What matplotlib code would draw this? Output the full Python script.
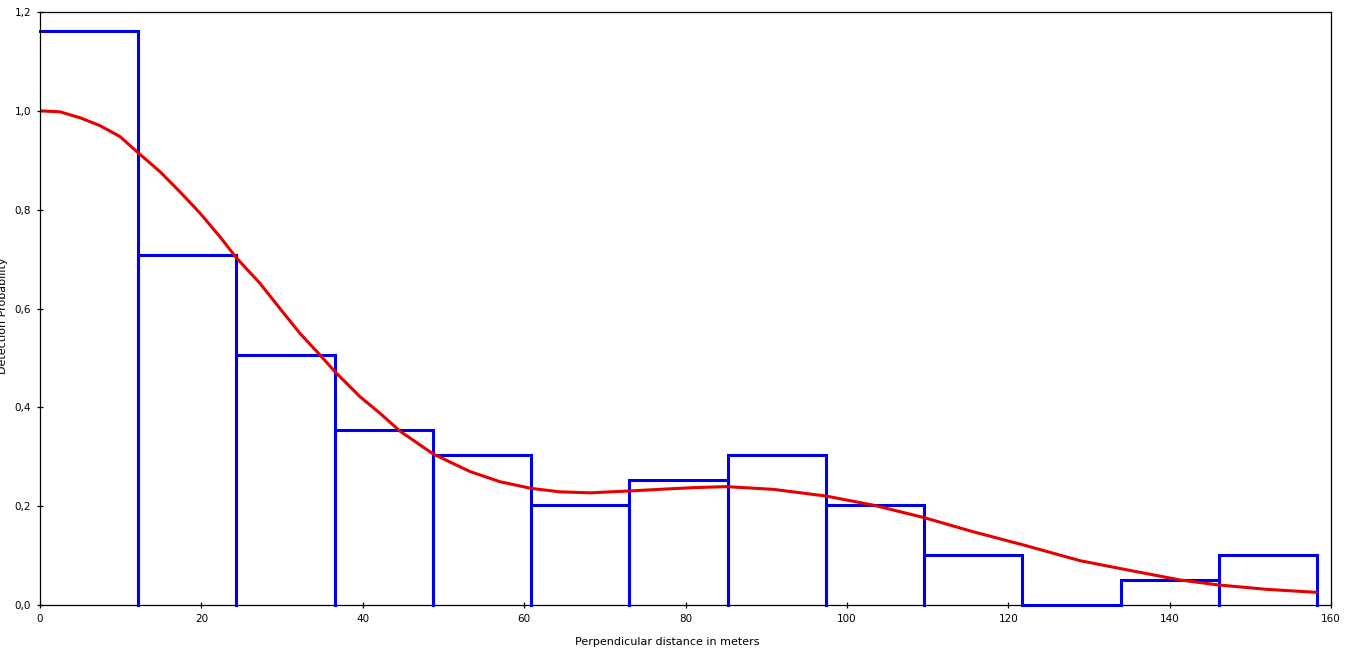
import matplotlib
matplotlib.use("Agg")
import matplotlib.pyplot as plt
from matplotlib.ticker import FuncFormatter

# Histogram bins (perpendicular distance, m) and observed detection-probability heights
bin_width = 12.175
bin_left = [0.0, 12.175, 24.35, 36.525, 48.7, 60.875, 73.05, 85.225,
            97.4, 109.575, 121.75, 133.925, 146.1]
bar_height = [1.162, 0.709, 0.506, 0.354, 0.304, 0.203, 0.253, 0.304,
              0.203, 0.101, 0.0, 0.051, 0.101]

# Fitted detection function
curve_x = [0.0, 2.48, 4.96, 7.44, 9.91, 12.1, 14.87, 17.35, 19.83, 22.31, 24.37,
           27.26, 29.74, 32.2, 34.7, 36.56, 39.66, 42.14, 44.6, 47.1, 48.74,
           53.3, 57.0, 60.85, 64.4, 68.2, 73.0, 76.8, 80.96, 85.1,
           90.9, 97.4, 103.3, 109.6, 115.7, 121.9, 128.9, 133.8, 141.3,
           146.1, 152.0, 158.2]
curve_y = [1.000, 0.998, 0.986, 0.970, 0.948, 0.916, 0.877, 0.836, 0.793, 0.745, 0.702,
           0.651, 0.600, 0.550, 0.506, 0.472, 0.4215, 0.388, 0.352, 0.324, 0.3055,
           0.270, 0.2495, 0.236, 0.229, 0.227, 0.2307, 0.234, 0.2375, 0.2395,
           0.234, 0.2205, 0.202, 0.1767, 0.148, 0.1214, 0.0897, 0.074, 0.0506,
           0.0405, 0.0317, 0.0256]

x_ticks = [0, 20, 40, 60, 80, 100, 120, 140, 160]
y_ticks = [0.0, 0.2, 0.4, 0.6, 0.8, 1.0, 1.2]

W, H = 1351, 663
fig = plt.figure(figsize=(W / 100, H / 100), dpi=100)
ax = fig.add_axes([40 / W, (H - 605) / H, (1331 - 40) / W, (605 - 12) / H])

blue = "#0000e6"
red = "#e60000"

for i, (l, h) in enumerate(zip(bin_left, bar_height)):
    r = l + bin_width
    if i == 0:
        xs, ys = [l, r, r], [h, h, 0]
    else:
        xs, ys = [l, l, r, r], [0, h, h, 0]
    ax.plot(xs, ys, color=blue, lw=2.2,
            solid_joinstyle="miter", zorder=3, clip_on=False)

ax.plot(curve_x, curve_y, color=red, lw=2.2, zorder=4,
        solid_capstyle="round", solid_joinstyle="round")

ax.set_xlim(0, 160)
ax.set_ylim(0, 1.2)
ax.set_xticks(x_ticks)
ax.set_yticks(y_ticks)
ax.yaxis.set_major_formatter(FuncFormatter(lambda v, p: f"{v:.1f}".replace(".", ",")))
ax.xaxis.set_major_formatter(FuncFormatter(lambda v, p: f"{int(round(v))}"))
ax.tick_params(axis="both", direction="inout", length=5, width=0.9,
               labelsize=7.5, colors="black")
ax.tick_params(axis="y", pad=4)
ax.tick_params(axis="x", pad=4)
ax.tick_params(top=False, right=False)
for s in ax.spines.values():
    s.set_linewidth(0.9)
    s.set_color("black")
ax.spines["left"].set_zorder(6)

fig.text(667 / W, 1 - 642 / H, "Perpendicular distance in meters",
         ha="center", va="center", fontsize=8)
fig.text(3 / W, 1 - 316 / H, "Detection Probability", rotation=90,
         ha="center", va="center", fontsize=8)

fig.savefig("out.png", dpi=100)
